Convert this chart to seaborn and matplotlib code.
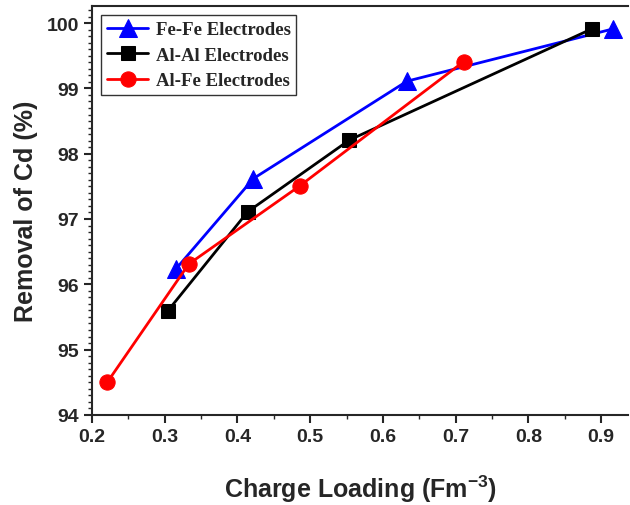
import matplotlib
matplotlib.use("Agg")
import matplotlib.pyplot as plt
from matplotlib.ticker import MultipleLocator
import seaborn as sns

fefe_x = [0.315, 0.422, 0.633, 0.916]
fefe_y = [96.23, 97.62, 99.11, 99.91]
alal_x = [0.304, 0.414, 0.554, 0.887]
alal_y = [95.59, 97.11, 98.21, 99.91]
alfe_x = [0.221, 0.333, 0.486, 0.711]
alfe_y = [94.50, 96.31, 97.51, 99.41]

sns.set_style("ticks")
plt.rcParams['font.family'] = ['Liberation Sans', 'DejaVu Sans']
plt.rcParams['font.weight'] = 'bold'
plt.rcParams['mathtext.fontset'] = 'custom'
plt.rcParams['mathtext.rm'] = 'Liberation Sans:bold'
plt.rcParams['mathtext.bf'] = 'Liberation Sans:bold'
plt.rcParams['mathtext.default'] = 'bf'

fig = plt.figure(figsize=(6.3, 5.06), dpi=100)
ax = fig.add_axes([0.146, 0.178, 0.851, 0.808])

series = [
    (fefe_x, fefe_y, "Fe-Fe Electrodes", "blue", "^", 13),
    (alal_x, alal_y, "Al-Al Electrodes", "black", "s", 10),
    (alfe_x, alfe_y, "Al-Fe Electrodes", "red", "o", 11),
]
for xs, ys, name, col, mk, ms in series:
    sns.lineplot(x=xs, y=ys, ax=ax, color=col, marker=mk, markersize=ms,
                 markeredgecolor=col, linewidth=2.0, label=name, sort=False)

ax.set_xlim(0.2, 0.937)
ax.set_ylim(94, 100.26)
ax.xaxis.set_major_locator(MultipleLocator(0.1))
ax.xaxis.set_minor_locator(MultipleLocator(0.05))
ax.yaxis.set_major_locator(MultipleLocator(1))
ax.yaxis.set_minor_locator(MultipleLocator(0.1))
ax.tick_params(which='major', direction='out', length=6, width=1.5, labelsize=14)
ax.tick_params(which='minor', direction='out', length=3, width=1.0)
for sp in ax.spines.values():
    sp.set_linewidth(1.5)
ax.spines['right'].set_visible(False)

ax.set_xlabel("Charge Loading (Fm$^{-3}$)", fontsize=18,
              fontweight='bold', labelpad=20)
ax.set_ylabel("Removal of Cd (%)", fontsize=18, fontweight='bold', labelpad=6)

leg = ax.legend(loc='upper left', bbox_to_anchor=(0.0, 1.0),
                prop={'family': 'Liberation Serif', 'weight': 'bold', 'size': 13.5},
                frameon=True, fancybox=False, edgecolor='black',
                handlelength=2.2, borderpad=0.3, labelspacing=0.45,
                handletextpad=0.4)
leg.get_frame().set_linewidth(1.0)

fig.savefig("out.png", dpi=100)
